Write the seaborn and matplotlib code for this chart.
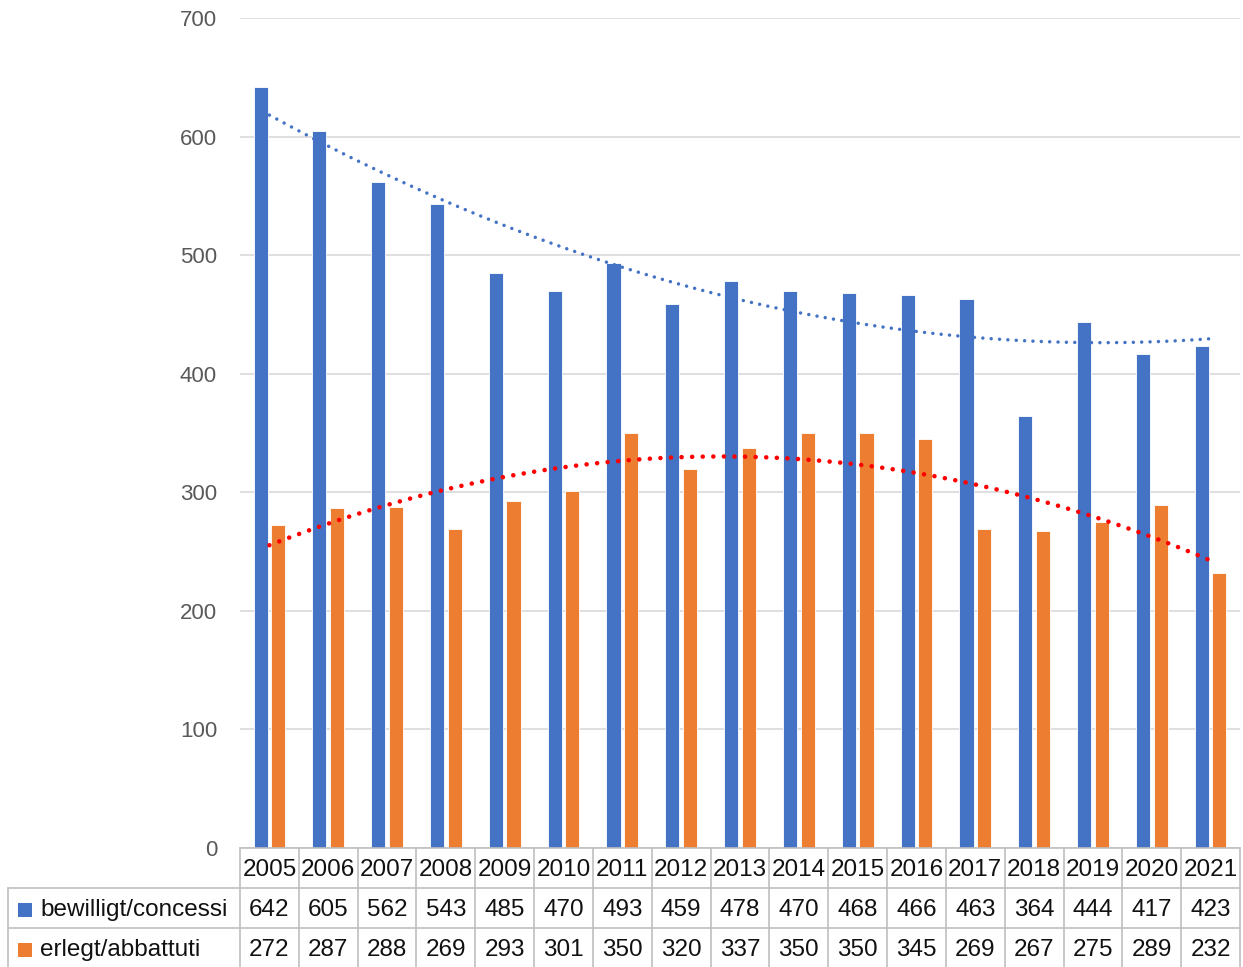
import numpy as np
import pandas as pd
import matplotlib
matplotlib.use("Agg")
from matplotlib import pyplot as plt
from matplotlib.patches import Rectangle
import seaborn as sns

years = [2005, 2006, 2007, 2008, 2009, 2010, 2011, 2012, 2013, 2014, 2015, 2016, 2017, 2018, 2019, 2020, 2021]
bewilligt = [642, 605, 562, 543, 485, 470, 493, 459, 478, 470, 468, 466, 463, 364, 444, 417, 423]
erlegt = [272, 287, 288, 269, 293, 301, 350, 320, 337, 350, 350, 345, 269, 267, 275, 289, 232]
series_names = ['bewilligt/concessi', 'erlegt/abbattuti']
series_colors = ['#4472C4', '#ED7D31']
trend_colors = ['#4472C4', '#FF0000']

sns.set_theme(style="white")
plt.rcParams['font.family'] = ['Liberation Sans', 'DejaVu Sans']

df = pd.DataFrame({'Jahr': years * 2,
                   'Wert': bewilligt + erlegt,
                   'Serie': [series_names[0]] * len(years) + [series_names[1]] * len(years)})

fig = plt.figure(figsize=(12.43, 9.67), dpi=100)
ax = fig.add_axes([240/1243, 1 - 848/967, 1000/1243, 830/967])

sns.barplot(data=df, x='Jahr', y='Wert', hue='Serie', palette=series_colors, saturation=1,
            width=0.6, gap=0.2, edgecolor='white', linewidth=0.6, legend=False, ax=ax)

# polynomial trend lines (order 2) on category positions
pos = np.array(years) - years[0]
sns.regplot(x=pos, y=np.array(bewilligt), order=2, ci=None, scatter=False, ax=ax,
            line_kws=dict(color=trend_colors[0], linewidth=2.5, linestyle=(0, (0.01, 2.4)),
                          dash_capstyle='round'))
sns.regplot(x=pos, y=np.array(erlegt), order=2, ci=None, scatter=False, ax=ax,
            line_kws=dict(color=trend_colors[1], linewidth=3.3, linestyle=(0, (0.01, 2.3)),
                          dash_capstyle='round'))

ax.set_xlim(-0.5, len(years) - 0.5)
ax.set_ylim(0, 700)
ax.set_yticks(range(0, 701, 100))
ax.yaxis.grid(True, color='#D9D9D9', linewidth=1.2)
ax.set_axisbelow(True)
ax.set_xticks([])
ax.set_xlabel('')
ax.set_ylabel('')
ax.tick_params(axis='y', length=0, pad=16.5, labelsize=16, labelcolor='#595959')
for s in ['left', 'right', 'top']:
    ax.spines[s].set_visible(False)
ax.spines['bottom'].set_color('#BFBFBF')
ax.spines['bottom'].set_linewidth(1.2)

# data table below the plot
n = len(years)
rh = 40 / 830
dy = 2 / 830
left = -232 / 1000
lc = '#BFBFBF'
tc = '#111111'
fs = 17.5
kw = dict(transform=ax.transAxes, clip_on=False, color=lc, linewidth=1.2)
for i in range(n + 1):
    ax.plot([i / n, i / n], [0, -3 * rh], **kw)
ax.plot([left, left], [-rh, -3 * rh], **kw)
for k in [1, 2, 3]:
    ax.plot([left, 1], [-k * rh, -k * rh], **kw)

for i, y in enumerate(years):
    ax.text((i + 0.5) / n, -0.5 * rh - dy, str(y), transform=ax.transAxes, ha='center', va='center',
            fontsize=fs, color=tc)
    ax.text((i + 0.5) / n, -1.5 * rh - dy, str(bewilligt[i]), transform=ax.transAxes, ha='center',
            va='center', fontsize=fs, color=tc)
    ax.text((i + 0.5) / n, -2.5 * rh - dy, str(erlegt[i]), transform=ax.transAxes, ha='center',
            va='center', fontsize=fs, color=tc)

for k, (name, col) in enumerate(zip(series_names, series_colors)):
    yc = -(k + 1.5) * rh - dy
    ax.add_patch(Rectangle((-222 / 1000, yc - 7 / 830), 14 / 1000, 14 / 830, transform=ax.transAxes,
                           clip_on=False, facecolor=col, edgecolor='none'))
    ax.text(-200 / 1000, yc, name, transform=ax.transAxes, ha='left', va='center',
            fontsize=fs, color=tc)

fig.savefig('out.png', dpi=100)
